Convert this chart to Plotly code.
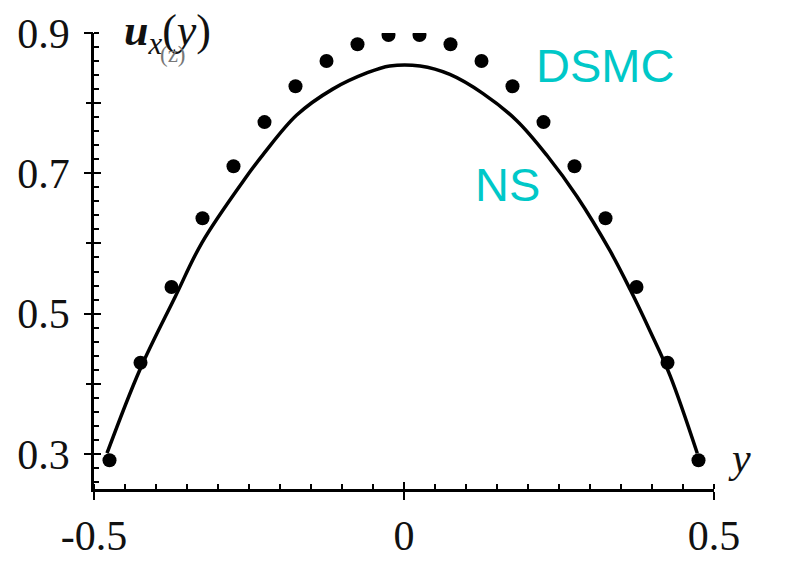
import plotly.graph_objects as go

# DSMC points (dots)
dsmc_x = [-0.475, -0.425, -0.375, -0.325, -0.275, -0.225, -0.175, -0.125, -0.075, -0.025,
          0.025, 0.075, 0.125, 0.175, 0.225, 0.275, 0.325, 0.375, 0.425, 0.475]
dsmc_y = [0.291, 0.430, 0.538, 0.636, 0.710, 0.773, 0.824, 0.860, 0.884, 0.897,
          0.897, 0.884, 0.860, 0.824, 0.773, 0.710, 0.636, 0.538, 0.430, 0.291]

# NS curve
ns_x = [-0.479, -0.426, -0.369, -0.326, -0.256, -0.227, -0.173, -0.115, -0.060, -0.023,
        0.026, 0.074, 0.127, 0.182, 0.231, 0.279, 0.332, 0.365, 0.397, 0.429, 0.473]
ns_y = [0.301, 0.420, 0.524, 0.601, 0.693, 0.727, 0.783, 0.820, 0.843, 0.853,
        0.853, 0.841, 0.814, 0.775, 0.725, 0.667, 0.590, 0.534, 0.475, 0.412, 0.301]

y_labeled = [0.3, 0.5, 0.7, 0.9]
y_major = [0.3, 0.4, 0.5, 0.6, 0.7, 0.8, 0.9]
x_ticks = [-0.5, 0, 0.5]
x_labels = ['-0.5', '0', '0.5']

serif = 'Liberation Serif'
cyan = '#00c8c8'

fig = go.Figure()
fig.add_trace(go.Scatter(x=ns_x, y=ns_y, mode='lines', line=dict(color='black', width=3.5),
                         line_shape='spline', showlegend=False, hoverinfo='skip'))
fig.add_trace(go.Scatter(x=dsmc_x, y=dsmc_y, mode='markers',
                         marker=dict(color='black', size=14), showlegend=False))
# dummy traces so the overlay axes are drawn
fig.add_trace(go.Scatter(x=[None], y=[None], xaxis='x2', yaxis='y2', showlegend=False))
fig.add_trace(go.Scatter(x=[None], y=[None], xaxis='x2', yaxis='y3', showlegend=False))

plain = dict(showgrid=False, zeroline=False, showline=False, showticklabels=False,
             tickcolor='black', tickwidth=2, automargin=False)

# the page body has an 8px margin, so the figure margins are shifted by it
fig.update_layout(
    width=785, height=570,
    margin=dict(l=86, r=79, t=25, b=89),
    plot_bgcolor='white', paper_bgcolor='white',
    xaxis=dict(range=[-0.5, 0.5], tickvals=x_ticks, ticktext=x_labels, ticks='outside', ticklen=8,
               tickfont=dict(family=serif, size=42, color='#111'), ticklabelstandoff=0,
               minor=dict(dtick=0.05, tick0=0, ticks='inside', ticklen=5, tickcolor='black', tickwidth=1.5),
               showgrid=False, zeroline=False, showline=True, linecolor='black', linewidth=2.5,
               tickcolor='black', tickwidth=2, automargin=False),
    yaxis=dict(range=[0.25, 0.9], tickvals=y_labeled, ticks='outside', ticklen=7, tickformat='.1f',
               tickfont=dict(family=serif, size=42, color='#111'), ticklabelstandoff=6,
               minor=dict(dtick=0.02, tick0=0.3, ticks='inside', ticklen=5, tickcolor='black', tickwidth=1.5),
               showgrid=False, zeroline=False, showline=True, linecolor='black', linewidth=2.5,
               tickcolor='black', tickwidth=2, automargin=False),
    xaxis2=dict(range=[-0.5, 0.5], overlaying='x', tickvals=x_ticks, ticks='inside', ticklen=7,
                side='bottom', **plain),
    yaxis2=dict(range=[0.25, 0.9], overlaying='y', tickvals=y_major, ticks='inside', ticklen=7,
                side='left', **plain),
    yaxis3=dict(range=[0.25, 0.9], overlaying='y', tickvals=y_major, ticks='outside', ticklen=7,
                side='left', **plain),
)

# axis titles
fig.add_annotation(x=0.045, y=1.0, xref='paper', yref='paper', xanchor='left', yanchor='middle',
                   text='<b><i>u</i></b><sub><i>x</i></sub>(<i>y</i>)', showarrow=False,
                   font=dict(family=serif, size=44, color='#111'))
fig.add_annotation(x=0.103, y=0.952, xref='paper', yref='paper', xanchor='left', yanchor='middle',
                   text='(z)', showarrow=False, font=dict(family=serif, size=23, color='#777'))
fig.add_annotation(x=1.02, y=0.068, xref='paper', yref='paper', xanchor='left', yanchor='middle',
                   text='<i>y</i>', showarrow=False, font=dict(family=serif, size=42, color='#111'))
# series labels
fig.add_annotation(x=0.21, y=0.853, xref='x', yref='y', xanchor='left', yanchor='middle',
                   text='DSMC', showarrow=False, font=dict(family='Liberation Sans', size=47, color=cyan))
fig.add_annotation(x=0.111, y=0.684, xref='x', yref='y', xanchor='left', yanchor='middle',
                   text='NS', showarrow=False, font=dict(family='Liberation Sans', size=47, color=cyan))

fig.write_html('out.html')
